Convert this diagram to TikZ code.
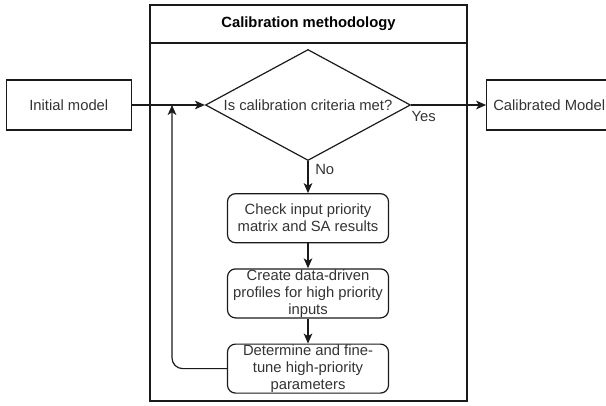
\documentclass[tikz,border=0pt]{standalone}
\usepackage{fontspec}
\setmainfont{Liberation Sans}
\usepackage{xcolor}
\usepackage{tikz}
\usetikzlibrary{shapes.geometric,arrows.meta,positioning}
\definecolor{calink}{HTML}{1A1A1A}
\definecolor{caltext}{HTML}{333333}
\tikzset{
  base/.style={font=\fontsize{11.1}{12.75}\selectfont, text=caltext},
  model/.style={base, rectangle, draw=calink, line width=0.9pt, minimum width=93.75pt, minimum height=37.5pt, align=center},
  stepbox/.style={base, rectangle, rounded corners=6pt, draw=calink, line width=0.9pt, minimum width=120.75pt, minimum height=36.75pt, inner sep=0pt, align=center},
  decision/.style={base, diamond, aspect=1.85, draw=calink, line width=0.9pt, minimum width=153.75pt, minimum height=83.25pt, inner sep=0pt, align=center},
  frame/.style={rectangle, draw=calink, line width=0.9pt, minimum width=237.75pt, minimum height=297pt, inner sep=0pt},
  titlebar/.style={base, font=\fontsize{11.1}{12.75}\selectfont\bfseries, text=black, rectangle, draw=calink, line width=0.9pt, minimum width=237.75pt, minimum height=28.5pt, inner sep=0pt},
  flow/.style={draw=calink, line width=0.9pt, -{Stealth[length=7.5pt, width=6.5pt, inset=2pt]}},
  tag/.style={base, inner sep=1pt},
}

\begin{document}
\begin{tikzpicture}[x=0.75pt, y=-0.75pt]
  \useasboundingbox (0,0) rectangle (606,406);
  % frame of the calibration loop
  \node[frame] (method) at (308.5,203) {};
  \node[titlebar, below=0pt of method.north] (title) {Calibration methodology};
  \node[decision] (check) at (308,105) {Is calibration criteria met?};
  \node[model, left=54.75pt of check] (init) {Initial model};
  \node[model, right=56.25pt of check] (calib) {Calibrated Model};
  \node[stepbox, below=24pt of check] (probe) {Check input priority\\matrix and SA results};
  \node[stepbox, below=18.75pt of probe] (profile) {Create data-driven\\profiles for high priority\\inputs};
  \node[stepbox, below=18.75pt of profile] (tune) {Determine and fine-\\tune high-priority\\parameters};
  \coordinate (merge) at (172,105);
  \draw[flow] (init)--(check);
  \draw[flow] (check.east)--node[tag, pos=0, below right=3pt and -1pt]{Yes}(calib);
  \draw[flow] (check.south)--node[tag, pos=0.25, right=4pt]{No}(probe);
  \draw[flow] (probe)--(profile);
  \draw[flow] (profile)--(tune);
  \draw[flow, rounded corners=8pt] (tune.west)-|(merge);
\end{tikzpicture}
\end{document}
